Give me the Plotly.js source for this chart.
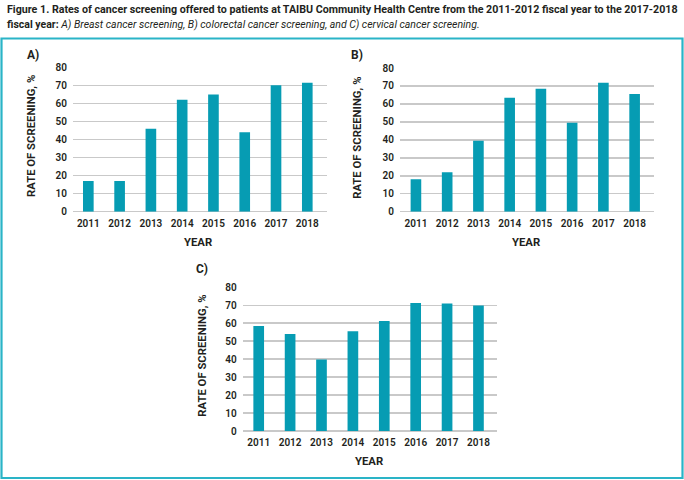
<!DOCTYPE html>
<html>
<head>
<meta charset="utf-8">
<script src="https://cdn.plot.ly/plotly-3.0.1.min.js"></script>
<style>html,body{margin:0;padding:0;background:#fff;}#chart{width:684px;height:480px;}</style>
</head>
<body>
<div id="chart"></div>
<script>
const years = ["2011","2012","2013","2014","2015","2016","2017","2018"];
const breastScreening = [17, 17, 46, 62, 65, 44, 70, 71.5];
const colorectalScreening = [18, 22, 39.5, 63.5, 68.5, 49.5, 71.8, 65.5];
const cervicalScreening = [58.5, 54, 39.8, 55.5, 61.3, 71.3, 71, 69.8];
const panelLabels = ["A)", "B)", "C)"];
const yTickVals = [0,10,20,30,40,50,60,70,80];
const yTitle = "RATE OF SCREENING, %";
const xTitle = "YEAR";
const captionLine1 = "<b>Figure 1. Rates of cancer screening offered to patients at TAIBU Community Health Centre from the 2011-2012 fiscal year to the 2017-2018</b>";
const captionLine2 = "<b>fiscal year:</b> <i>A) Breast cancer screening, B) colorectal cancer screening, and C) cervical cancer screening.</i>";

const W = 684, H = 480;
const px = v => v / W;
const py = v => 1 - v / H;

const barColor = "#069cb3";
const textColor = "#231f20";
const gridColor = "#c9c9c9";

function bar(y, xa, ya) {
  return {type: "bar", x: years, y: y, xaxis: xa, yaxis: ya,
    marker: {color: barColor, line: {width: 0}}, width: 0.34, hoverinfo: "x+y"};
}

const data = [
  bar(breastScreening, "x", "y"),
  bar(colorectalScreening, "x2", "y2"),
  bar(cervicalScreening, "x3", "y3")
];

const tickFont = {family: "Roboto, sans-serif", size: 10, color: textColor, weight: 600};

function xax(domain, range) {
  return {domain: domain, type: "category", range: range, showgrid: false, zeroline: false,
    showline: false, ticks: "", tickfont: tickFont, fixedrange: true, ticklabelstandoff: 4};
}
function yax(domain, anchor) {
  return {domain: domain, anchor: anchor, range: [0, 80], tickvals: yTickVals, showgrid: true,
    gridcolor: gridColor, gridwidth: 1.5, zeroline: true, zerolinecolor: gridColor, zerolinewidth: 1.5,
    showline: false, ticks: "", tickfont: tickFont, fixedrange: true, ticklabelstandoff: 5};
}

const layout = {
  width: W, height: H,
  margin: {l: 0, r: 0, t: 0, b: 0},
  paper_bgcolor: "#fff", plot_bgcolor: "rgba(0,0,0,0)",
  showlegend: false,
  bargap: 0.66,
  xaxis: Object.assign(xax([px(73), px(327)], [-0.49, 7.63]), {anchor: "y"}),
  yaxis: yax([1 - 211.7 / H, 1 - 67.3 / H], "x"),
  xaxis2: Object.assign(xax([px(400), px(654)], [-0.51, 7.62]), {anchor: "y2"}),
  yaxis2: yax([1 - 211.7 / H, 1 - 68 / H], "x2"),
  xaxis3: Object.assign(xax([px(242.7), px(497.3)], [-0.51, 7.6]), {anchor: "y3"}),
  yaxis3: yax([1 - 431 / H, 1 - 287.3 / H], "x3"),
  shapes: [
    {type: "rect", xref: "paper", yref: "paper", x0: px(1.5), x1: px(682.5), y0: py(478), y1: py(38.5),
      line: {color: "#2ab4c7", width: 2.2}, fillcolor: "rgba(0,0,0,0)"}
  ],
  annotations: []
};

layout.annotations.push({xref: "paper", yref: "paper", x: px(5), y: py(9), xanchor: "left", yanchor: "middle",
  text: captionLine1, showarrow: false, font: {family: "Roboto, sans-serif", size: 10.7, color: textColor}, align: "left"});
layout.annotations.push({xref: "paper", yref: "paper", x: px(5), y: py(24), xanchor: "left", yanchor: "middle",
  text: captionLine2, showarrow: false, font: {family: "Roboto, sans-serif", size: 10.5, color: textColor}, align: "left"});

const labelFont = {family: "Roboto, sans-serif", size: 12, color: textColor, weight: 700};
const titleFont = {family: "Roboto, sans-serif", size: 11.3, color: textColor, weight: 700};
const panels = [
  {label: [32.7, 55], ytitle: [31.5, 136.5], xtitle: [198.3, 242.3]},
  {label: [357, 55], ytitle: [357.3, 137.5], xtitle: [525.7, 242.3]},
  {label: [201.7, 269.3], ytitle: [201.7, 356], xtitle: [369, 461.7]}
];
panels.forEach((p, i) => {
  layout.annotations.push({xref: "paper", yref: "paper", x: px(p.label[0]), y: py(p.label[1]),
    xanchor: "center", yanchor: "middle", text: "<b>" + panelLabels[i] + "</b>", showarrow: false, font: labelFont});
  layout.annotations.push({xref: "paper", yref: "paper", x: px(p.ytitle[0]), y: py(p.ytitle[1]),
    xanchor: "center", yanchor: "middle", textangle: -90, text: "<b>" + yTitle + "</b>", showarrow: false, font: titleFont});
  layout.annotations.push({xref: "paper", yref: "paper", x: px(p.xtitle[0]), y: py(p.xtitle[1]),
    xanchor: "center", yanchor: "middle", text: "<b>" + xTitle + "</b>", showarrow: false, font: titleFont});
});

Plotly.newPlot("chart", data, layout, {displayModeBar: false, staticPlot: true});
</script>
</body>
</html>
